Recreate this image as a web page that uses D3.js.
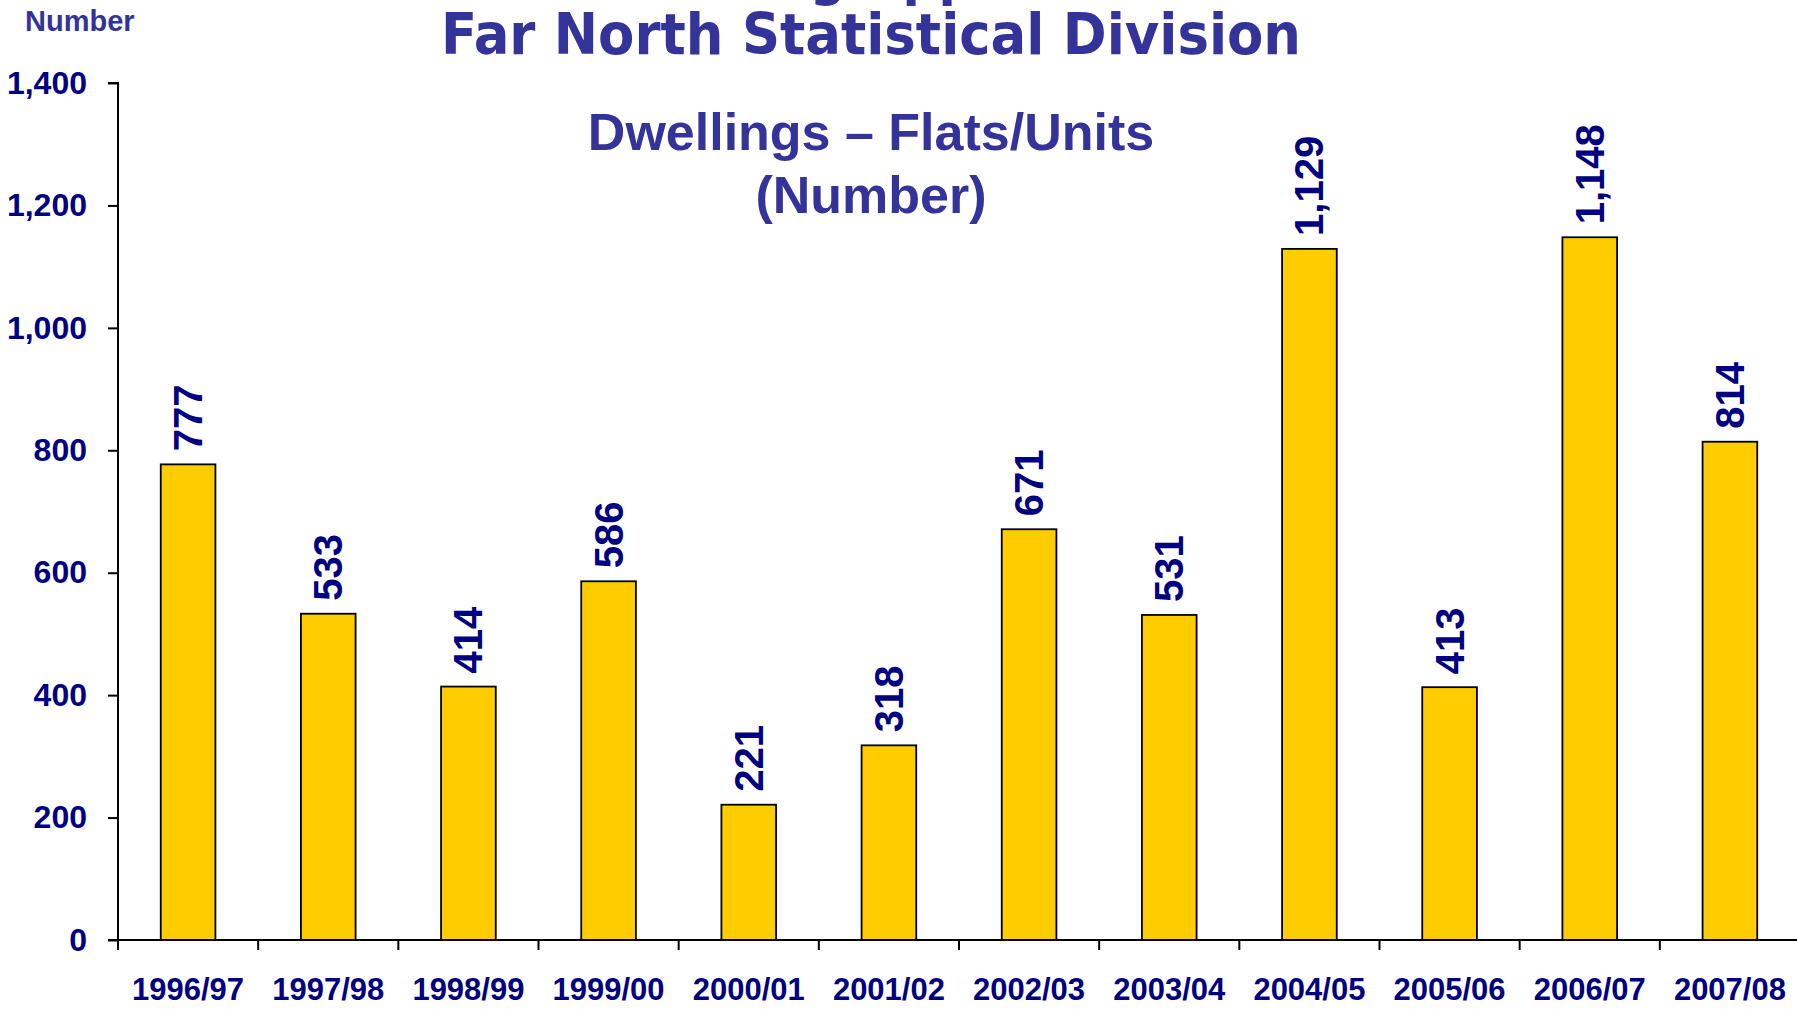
<!DOCTYPE html>
<html>
<head>
<meta charset="utf-8">
<script src="https://cdn.jsdelivr.net/npm/d3@7"></script>
<style>
  body { margin: 0; background: #fff; }
  svg { display: block; }
</style>
</head>
<body>
<svg id="canvas" width="1797" height="1009"></svg>
<script>
const years = [
    "1996/97", "1997/98", "1998/99", "1999/00", "2000/01", "2001/02",
    "2002/03", "2003/04", "2004/05", "2005/06", "2006/07", "2007/08"
];
const flats = [777, 533, 414, 586, 221, 318, 671, 531, 1129, 413, 1148, 814];
const y_ticks = [0, 200, 400, 600, 800, 1000, 1200, 1400];

const title_top = "Building Approvals";   // cut off at the top of the picture
const title_main = "Far North Statistical Division";
const sub_lines = ["Dwellings \u2013 Flats/Units", "(Number)"];

const navy = "#000080";
const purple = "#333399";
const arial = "'Liberation Sans', Arial, sans-serif";
const tahoma = "'DejaVu Sans Condensed', 'DejaVu Sans', sans-serif";

const svg = d3.select("svg#canvas");

const x = d3.scaleBand()
    .domain(years)
    .range([118, 1800])
    .paddingInner(0.61)
    .paddingOuter(0.305);

const y = d3.scaleLinear()
    .domain([0, 1400])
    .range([940, 83]);

const fmt = d3.format(",");

// bars
svg.append("g")
    .selectAll("rect")
    .data(flats)
    .join("rect")
    .attr("x", (_, i) => x(years[i]))
    .attr("y", d => y(d))
    .attr("width", x.bandwidth())
    .attr("height", d => y(0) - y(d))
    .attr("fill", "#ffcc00")
    .attr("stroke", "#000")
    .attr("stroke-width", 1.8);

// y axis
const yAxis = svg.append("g")
    .attr("transform", "translate(118,0)")
    .call(d3.axisLeft(y).tickValues(y_ticks).tickFormat(fmt).tickSize(10).tickPadding(21));
yAxis.select(".domain").attr("stroke", "#000").attr("stroke-width", 2).attr("d", `M-10,${y(1400)}H0V${y(0)}`);
yAxis.selectAll(".tick line").attr("stroke", "#000").attr("stroke-width", 2);
yAxis.selectAll(".tick text")
    .attr("fill", navy)
    .attr("font-family", arial)
    .attr("font-weight", "bold")
    .attr("font-size", 32);

// x axis: ticks sit on the category boundaries
const xAxis = svg.append("g")
    .attr("transform", `translate(0,${y(0)})`);
xAxis.append("line")
    .attr("x1", 108).attr("x2", 1800)
    .attr("stroke", "#000").attr("stroke-width", 2);
xAxis.selectAll("line.tk")
    .data(years)
    .join("line")
    .attr("class", "tk")
    .attr("x1", d => x(d) - x.step() * x.paddingOuter())
    .attr("x2", d => x(d) - x.step() * x.paddingOuter())
    .attr("y1", 0).attr("y2", 10)
    .attr("stroke", "#000").attr("stroke-width", 2);
xAxis.selectAll("text")
    .data(years)
    .join("text")
    .attr("x", d => x(d) + x.bandwidth() / 2)
    .attr("y", 60)
    .attr("text-anchor", "middle")
    .attr("fill", navy)
    .attr("font-family", arial)
    .attr("font-weight", "bold")
    .attr("font-size", 32)
    .attr("textLength", 112)
    .attr("lengthAdjust", "spacingAndGlyphs")
    .text(d => d);

// value labels, turned on their side
svg.append("g")
    .selectAll("text")
    .data(flats)
    .join("text")
    .attr("transform", (d, i) => `translate(${x(years[i]) + x.bandwidth() / 2 + 14},${y(d) - 13}) rotate(-90)`)
    .attr("fill", navy)
    .attr("font-family", arial)
    .attr("font-weight", "bold")
    .attr("font-size", 40)
    .text(d => fmt(d));

// titles
svg.append("text")
    .attr("x", 880).attr("y", -6)
    .attr("text-anchor", "middle")
    .attr("fill", purple)
    .attr("font-family", tahoma)
    .attr("font-weight", "bold")
    .attr("font-size", 56)
    .text(title_top);

svg.append("text")
    .attr("x", 871).attr("y", 54)
    .attr("text-anchor", "middle")
    .attr("fill", purple)
    .attr("font-family", tahoma)
    .attr("font-weight", "bold")
    .attr("font-size", 57)
    .attr("textLength", 860)
    .attr("lengthAdjust", "spacingAndGlyphs")
    .text(title_main);

svg.append("g")
    .selectAll("text")
    .data(sub_lines)
    .join("text")
    .attr("x", 871)
    .attr("y", (_, i) => 150 + i * 63)
    .attr("text-anchor", "middle")
    .attr("fill", purple)
    .attr("font-family", arial)
    .attr("font-weight", "bold")
    .attr("font-size", 52)
    .text(d => d);

svg.append("text")
    .attr("x", 25).attr("y", 31)
    .attr("fill", purple)
    .attr("font-family", arial)
    .attr("font-weight", "bold")
    .attr("font-size", 29)
    .text("Number");
</script>
</body>
</html>
